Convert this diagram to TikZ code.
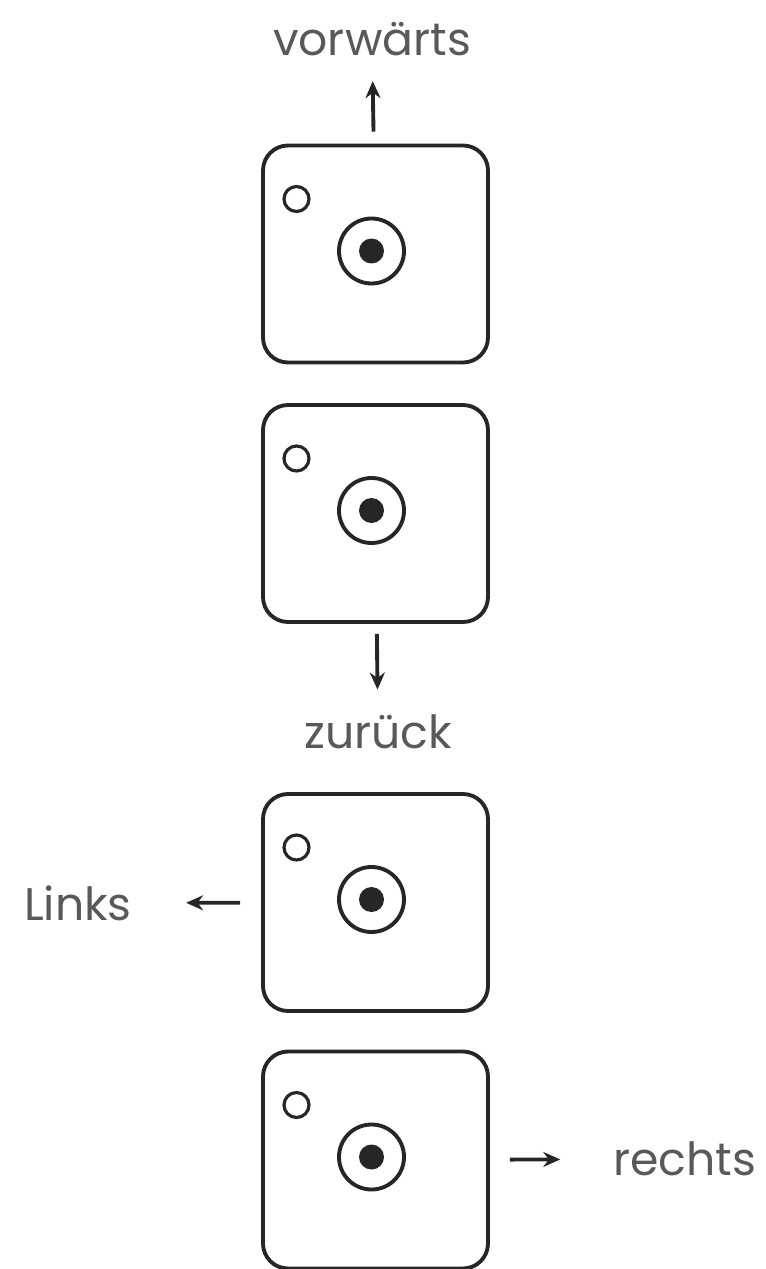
\documentclass[tikz,border=0pt]{standalone}
\usepackage{fontspec}
\setmainfont{Poppins}
\usepackage{tikz}
\usetikzlibrary{arrows.meta,positioning}

\begin{document}
\begin{tikzpicture}[every node/.style={font=\fontsize{26}{30}\selectfont, text=black!65, inner sep=0pt},
  panel/.style={draw=black!85, line width=2.2pt, rounded corners=0.5cm, minimum width=4.5cm, minimum height=4.34cm},
  pinhole/.style={circle, draw=black!85, line width=1.8pt, minimum size=0.5cm},
  lens/.style={circle, draw=black!85, line width=2.2pt, minimum size=1.3cm},
  pupil/.style={circle, fill=black!85, minimum size=0.5cm},
  move/.style={-{Stealth[length=0.34cm, width=0.3cm]}, line width=2.2pt, draw=black!85}]
  \useasboundingbox (0,0) rectangle (15.3,-25.38);

  % Forward
  \node[panel] (b1) at (7.51, -5.08) {};
  \node[pinhole] (h1) at ([shift={(-1.58,1.1)}]b1.center) {};
  \node[lens] (l1) at ([shift={(-0.08,0.06)}]b1.center) {};
  \node[pupil] (d1) at (l1) {};
  \node (vor) at (7.44, -0.78) {vorwärts};
  \draw[move, shorten <=0.24cm, shorten >=0.5cm] (b1) -- (vor);

  % Back
  \node[panel] (b2) at (7.51, -10.27) {};
  \node[pinhole] (h2) at ([shift={(-1.58,1.1)}]b2.center) {};
  \node[lens] (l2) at ([shift={(-0.08,0.06)}]b2.center) {};
  \node[pupil] (d2) at (l2) {};
  \node (zur) at (7.56, -14.64) {zurück};
  \draw[move, shorten <=0.2cm, shorten >=0.5cm] (b2) -- (zur);

  % Left
  \node[panel] (b3) at (7.51, -18.05) {};
  \node[pinhole] (h3) at ([shift={(-1.58,1.1)}]b3.center) {};
  \node[lens] (l3) at ([shift={(-0.08,0.06)}]b3.center) {};
  \node[pupil] (d3) at (l3) {};
  \node (links) at (1.56, -18.06) {Links};
  \draw[move, shorten <=0.42cm, shorten >=1.08cm] (b3) -- (links);

  % Right
  \node[panel] (b4) at (7.51, -23.2) {};
  \node[pinhole] (h4) at ([shift={(-1.58,1.1)}]b4.center) {};
  \node[lens] (l4) at ([shift={(-0.08,0.06)}]b4.center) {};
  \node[pupil] (d4) at (l4) {};
  \node (rechts) at (13.7, -23.18) {rechts};
  \draw[move, shorten <=0.4cm, shorten >=1.06cm] (b4) -- (rechts);
\end{tikzpicture}
\end{document}
